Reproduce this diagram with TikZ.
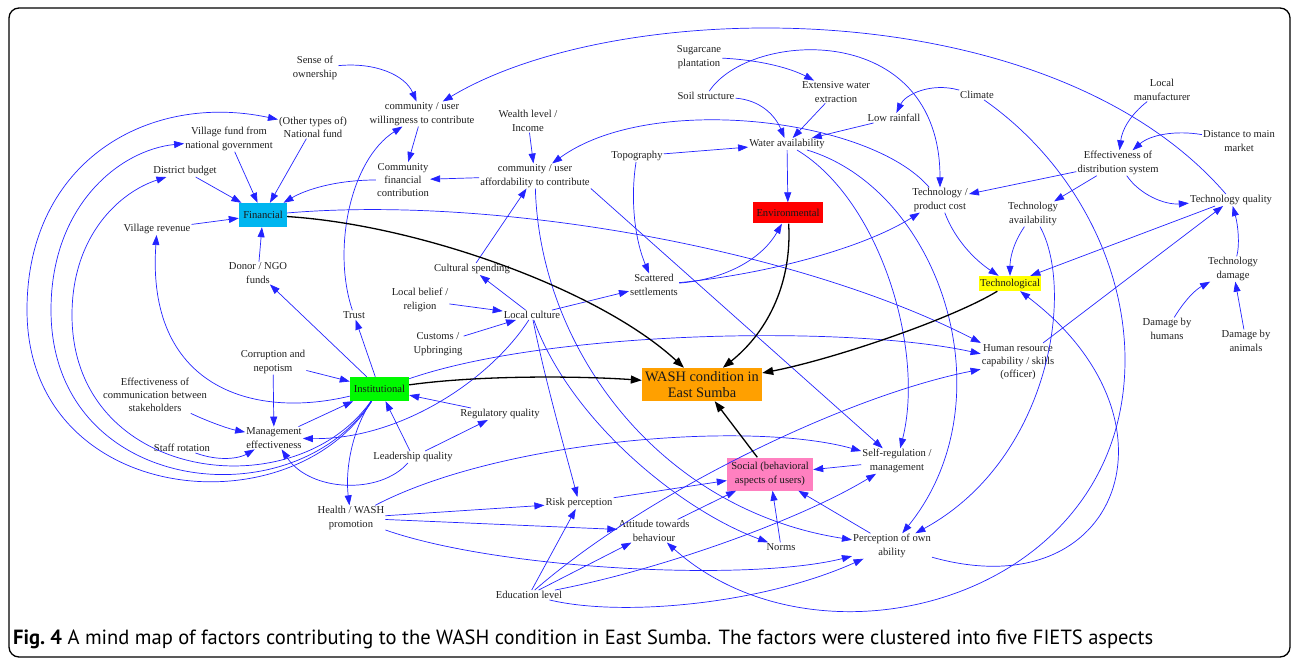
\documentclass[tikz,border=0pt]{standalone}
\usepackage{graphicx}
\usepackage{fontspec}
\setmainfont{Liberation Serif}
\newfontfamily\capfont{PT Sans}
\usetikzlibrary{arrows.meta}
\definecolor{eblue}{RGB}{35,35,255}
\definecolor{cfin}{RGB}{0,182,240}
\definecolor{cins}{RGB}{0,250,0}
\definecolor{cenv}{RGB}{255,0,0}
\definecolor{ctec}{RGB}{255,255,0}
\definecolor{csoc}{RGB}{255,128,192}
\definecolor{cwash}{RGB}{255,160,0}
\begin{document}
\begin{tikzpicture}[x=1pt,y=-1pt,
  lbl/.style={font=\fontsize{10.6}{13.3}\selectfont, align=center, inner sep=1pt, text=black!88},
  catbox/.style={font=\fontsize{10.6}{13.3}\selectfont, align=center, inner sep=0pt, text=black!90},
  e/.style={draw=eblue, line width=0.7pt, -{Triangle[length=10pt,width=7pt]}},
  k/.style={draw=black, line width=1.3pt, -{Triangle[length=11pt,width=8pt]}}]

\useasboundingbox (0,0) rectangle (1292,660);
\draw[line width=1.3pt, rounded corners=10pt] (9,8) rectangle (1290,657);

% ---------- category boxes ----------
\node[catbox, fill=cfin, minimum width=48pt, minimum height=24pt] (fin) at (263,215) {Financial};
\node[catbox, fill=cins, minimum width=59pt, minimum height=24pt] (inst) at (379.5,389) {Institutional};
\node[catbox, fill=cenv, minimum width=70pt, minimum height=21pt] (env) at (788,213) {Environmental};
\node[catbox, fill=ctec, minimum width=62pt, minimum height=15pt] (tech) at (1010,283.5) {Technological};
\node[catbox, fill=csoc, minimum width=86pt, minimum height=33pt] (social) at (770,474) {Social (behavioral\\aspects of users)};
\node[catbox, fill=cwash, minimum width=120pt, minimum height=33pt, font=\fontsize{14.4}{16}\selectfont] (wash) at (702,384.5) {WASH condition in\\East Sumba};

% ---------- factor labels ----------
\node[lbl] (sense) at (315,68) {Sense of\\ownership};
\node[lbl] (will) at (422,114) {community / user\\willingness to contribute};
\node[lbl] (natf) at (313,127) {(Other types of)\\National fund};
\node[lbl] (vilf) at (229,139) {Village fund from\\national government};
\node[lbl] (dist) at (185,171) {District budget};
\node[lbl] (cfc) at (403,180) {Community\\financial\\contribution};
\node[lbl] (vrev) at (157,229) {Village revenue};
\node[lbl] (donor) at (258,273) {Donor / NGO\\funds};
\node[lbl] (wealth) at (528,121) {Wealth level /\\Income};
\node[lbl] (aff) at (535,176) {community / user\\affordability to contribute};
\node[lbl] (sugar) at (699,57) {Sugarcane\\plantation};
\node[lbl] (soil) at (706,96) {Soil structure};
\node[lbl] (ext) at (836,92) {Extensive water\\extraction};
\node[lbl] (topo) at (637,156) {Topography};
\node[lbl] (water) at (787,144) {Water availability};
\node[lbl] (rain) at (894,118) {Low rainfall};
\node[lbl] (climate) at (977,95) {Climate};
\node[lbl] (lman) at (1162,90) {Local\\manufacturer};
\node[lbl] (dist2) at (1239,141) {Distance to main\\market};
\node[lbl] (eds) at (1118,163) {Effectiveness of\\distribution system};
\node[lbl] (tcost) at (940,200) {Technology /\\product cost};
\node[lbl] (tavail) at (1033,214) {Technology\\availability};
\node[lbl] (tqual) at (1231,200) {Technology quality};
\node[lbl] (tdam) at (1233,269) {Technology\\damage};
\node[lbl] (dhum) at (1167,329) {Damage by\\humans};
\node[lbl] (dani) at (1246,341) {Damage by\\animals};
\node[lbl] (hr) at (1018,362) {Human resource\\capability / skills\\(officer)};
\node[lbl] (cspend) at (472,269) {Cultural spending};
\node[lbl] (scat) at (654,285) {Scattered\\settlements};
\node[lbl] (belief) at (420,300) {Local belief /\\religion};
\node[lbl] (lcult) at (532,315) {Local culture};
\node[lbl] (cust) at (438,344) {Customs /\\Upbringing};
\node[lbl] (trust) at (354,315) {Trust};
\node[lbl] (corr) at (273,362) {Corruption and\\nepotism};
\node[lbl] (comm) at (155,395) {Effectiveness of\\communication between\\stakeholders};
\node[lbl] (mgmt) at (274,438) {Management\\effectiveness};
\node[lbl] (staff) at (182,448) {Staff rotation};
\node[lbl] (reg) at (500,414) {Regulatory quality};
\node[lbl] (lead) at (413,457) {Leadership quality};
\node[lbl] (health) at (351,518) {Health / WASH\\promotion};
\node[lbl] (risk) at (579,503) {Risk perception};
\node[lbl] (att) at (654,531) {Attitude towards\\behaviour};
\node[lbl] (edu) at (529,595) {Education level};
\node[lbl] (norms) at (781,547) {Norms};
\node[lbl] (selfreg) at (897,461) {Self-regulation /\\management};
\node[lbl] (perc) at (892,546) {Perception of own\\ability};

% ---------- blue connectors ----------
% financial cluster
\draw[e] (sense) .. controls (375,62) and (405,75) .. (will);
\draw[e] (will) -- (cfc);
\draw[e] (cfc) .. controls (335,180) and (305,190) .. (fin);
\draw[e] (natf) -- (fin);
\draw[e] (vilf) -- (fin);
\draw[e] (dist) -- (fin);
\draw[e] (vrev) -- (fin);
\draw[e] (donor) -- (fin);
\draw[e] (trust) .. controls (332,250) and (350,160) .. (will);
\draw[e] (wealth) -- (aff);
\draw[e] (aff) -- (cfc);
\draw[e] (cspend) -- (aff);
\draw[e] (tcost) .. controls (870,118) and (650,92) .. (aff);
\draw[e] (tqual) .. controls (1050,-10) and (620,-5) .. (will);
% institutional cluster
\draw[e] (inst) -- (donor);
\draw[e] (inst) -- (trust);
\draw[e] (corr) -- (inst);
\draw[e] (corr) -- (mgmt);
\draw[e] (comm) .. controls (200,418) and (225,428) .. (mgmt);
\draw[e] (staff) .. controls (220,462) and (240,458) .. (mgmt);
\draw[e] (mgmt) -- (inst);
\draw[e] (lead) -- (inst);
\draw[e] (lead) -- (reg);
\draw[e] (reg) -- (inst);
\draw[e] (lead) .. controls (380,495) and (310,492) .. (mgmt);
\draw[e] (lcult) .. controls (490,380) and (400,440) .. (mgmt);
\draw[e] (inst) .. controls (250,420) and (146,385) .. (vrev);
\draw[e] (inst) .. controls (290,532) and (27,505) .. (27,310) .. controls (27,160) and (150,92) .. (natf);
\draw[e] (inst) .. controls (292,522) and (51,495) .. (51,310) .. controls (51,205) and (120,150) .. (vilf);
\draw[e] (inst) .. controls (294,510) and (72,482) .. (72,315) .. controls (72,235) and (120,192) .. (dist);
\draw[e] (inst) .. controls (352,430) and (345,470) .. (health);
\draw[e] (inst) .. controls (550,330) and (850,325) .. (hr);
\draw[e] (fin) .. controls (500,195) and (800,250) .. (hr);
% environmental cluster
\draw[e] (sugar) .. controls (760,60) and (790,68) .. (ext);
\draw[e] (soil) .. controls (760,100) and (775,115) .. (water);
\draw[e] (ext) -- (water);
\draw[e] (rain) -- (water);
\draw[e] (climate) .. controls (930,82) and (905,95) .. (rain);
\draw[e] (soil) .. controls (750,30) and (940,20) .. (tcost);
\draw[e] (topo) -- (water);
\draw[e] (water) -- (env);
\draw[e] (topo) .. controls (630,200) and (635,240) .. (scat);
\draw[e] (scat) .. controls (720,280) and (760,262) .. (env);
\draw[e] (scat) .. controls (760,275) and (860,250) .. (tcost);
\draw[e] (lcult) -- (scat);
\draw[e] (lcult) -- (cspend);
\draw[e] (belief) -- (lcult);
\draw[e] (cust) -- (lcult);
% technological cluster
\draw[e] (lman) .. controls (1130,115) and (1122,130) .. (eds);
\draw[e] (dist2) .. controls (1175,130) and (1150,135) .. (eds);
\draw[e] (eds) -- (tcost);
\draw[e] (eds) -- (tavail);
\draw[e] (eds) .. controls (1140,195) and (1165,205) .. (tqual);
\draw[e] (tavail) .. controls (1012,245) and (1010,260) .. (tech);
\draw[e] (tcost) .. controls (955,240) and (975,260) .. (tech);
\draw[e] (tqual) -- (tech);
\draw[e] (tdam) .. controls (1240,245) and (1238,225) .. (tqual);
\draw[e] (dhum) .. controls (1185,300) and (1195,290) .. (tdam);
\draw[e] (dani) -- (tdam);
\draw[e] (hr) -- (tqual);
% social cluster
\draw[e] (aff.south east) -- (selfreg);
\draw[e] (water) .. controls (880,200) and (925,350) .. (selfreg);
\draw[e] (water) .. controls (940,190) and (1010,400) .. (perc);
\draw[e] (tavail) .. controls (1075,290) and (1050,460) .. (perc);
\draw[e] (climate) .. controls (1070,160) and (1125,260) .. (1125,360) .. controls (1125,600) and (820,680) .. (att);
\draw[e] (perc) .. controls (1120,610) and (1190,420) .. (tech);
\draw[e] (aff) .. controls (540,350) and (660,510) .. (perc);
\draw[e] (lcult) .. controls (545,380) and (565,450) .. (risk);
\draw[e] (lcult) .. controls (570,420) and (680,510) .. (norms);
\draw[e] (selfreg) -- (social);
\draw[e] (norms) -- (social);
\draw[e] (perc) -- (social);
\draw[e] (risk) -- (social);
\draw[e] (att) -- (social);
\draw[e] (health) -- (risk);
\draw[e] (health) -- (att);
\draw[e] (health) .. controls (500,570) and (750,582) .. (perc);
\draw[e] (health) .. controls (500,440) and (750,420) .. (selfreg);
\draw[e] (edu) -- (risk);
\draw[e] (edu) -- (att);
\draw[e] (edu) .. controls (660,570) and (800,520) .. (selfreg);
\draw[e] (edu) .. controls (620,617) and (760,605) .. (perc);
\draw[e] (edu) .. controls (650,490) and (850,395) .. (hr);

% ---------- black connectors ----------
\draw[k] (fin) .. controls (420,225) and (600,290) .. (wash);
\draw[k] (inst) .. controls (480,375) and (580,376) .. (wash);
\draw[k] (env) .. controls (792,280) and (770,330) .. (wash);
\draw[k] (tech) .. controls (950,320) and (830,360) .. (wash);
\draw[k] (social) -- (wash);

% ---------- caption ----------
\node[anchor=base west, inner sep=0pt] (cap) at (13,644) {\resizebox{1140pt}{!}{\capfont\fontsize{16}{18}\selectfont\textbf{Fig.\ 4} A mind map of factors contributing to the WASH condition in East Sumba. The factors were clustered into five FIETS aspects}};
\end{tikzpicture}
\end{document}
